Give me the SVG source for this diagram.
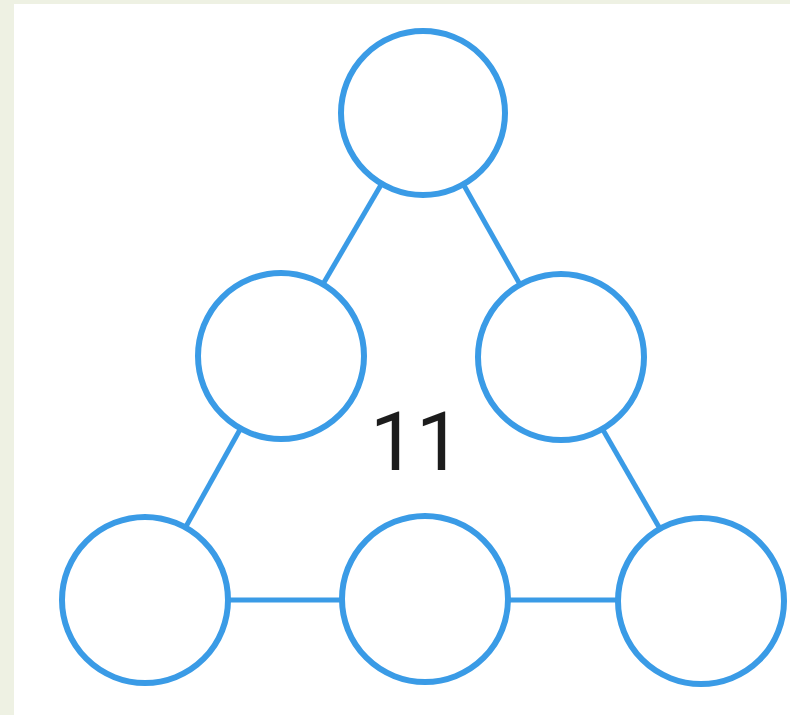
<svg xmlns="http://www.w3.org/2000/svg" width="790" height="715" viewBox="0 0 790 715">
<style>
.node{fill:#ffffff;stroke:#3a9be6;stroke-width:6}
.edge{stroke:#3a9be6;stroke-width:5;fill:none}
.lbl{font-family:Roboto,"Noto Sans","Liberation Sans",sans-serif;font-size:82px;fill:#1c1c1c}
</style>
<rect x="0" y="0" width="790" height="715" fill="#eef1e3"/>
<rect x="14" y="4" width="776" height="711" fill="#ffffff"/>
<g id="connectors">
<line class="edge" x1="423" y1="113" x2="281" y2="356"/>
<line class="edge" x1="423" y1="113" x2="561" y2="357"/>
<line class="edge" x1="281" y1="356" x2="145" y2="600"/>
<line class="edge" x1="561" y1="357" x2="701" y2="600"/>
<line class="edge" x1="145" y1="600" x2="425" y2="600"/>
<line class="edge" x1="425" y1="600" x2="701" y2="600"/>
</g>
<g id="n-top"><circle class="node" cx="423" cy="113" r="82"/></g>
<g id="n-midleft"><circle class="node" cx="281" cy="356" r="83"/></g>
<g id="n-midright"><circle class="node" cx="561" cy="357" r="83"/></g>
<g id="n-botleft"><circle class="node" cx="145" cy="600" r="83"/></g>
<g id="n-botmid"><circle class="node" cx="425" cy="599" r="83"/></g>
<g id="n-botright"><circle class="node" cx="701" cy="601" r="83"/></g>
<text class="lbl" x="416" y="470" text-anchor="middle">11</text>
</svg>
